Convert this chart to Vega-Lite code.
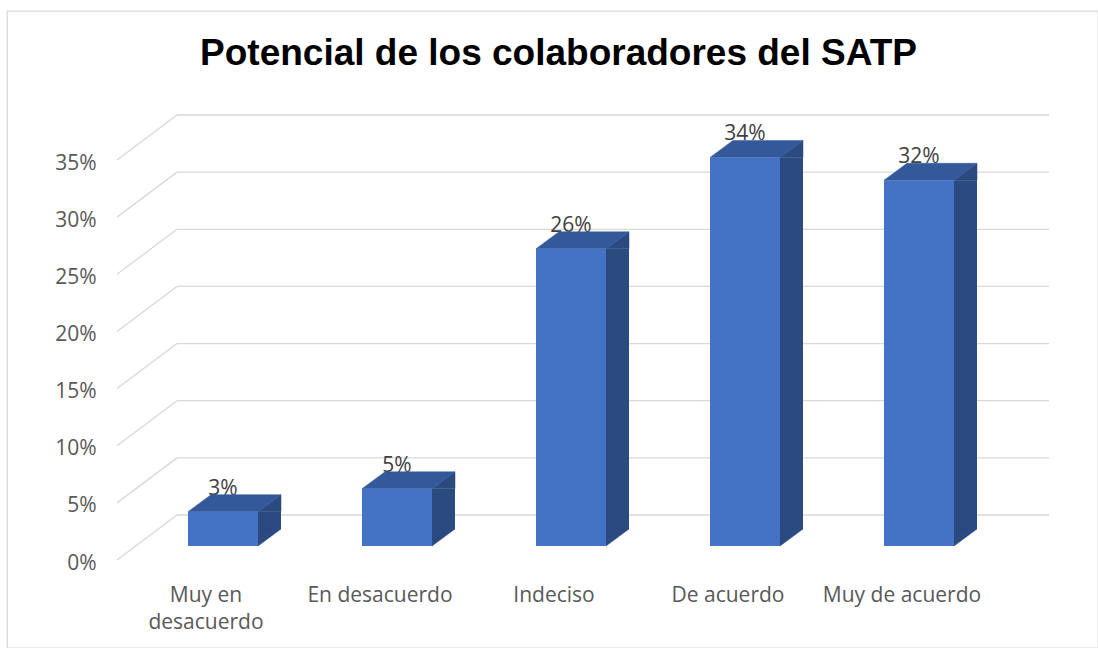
{
  "$schema": "https://vega.github.io/schema/vega-lite/v6.json",
  "width": 1091,
  "height": 637,
  "autosize": {"type": "none"},
  "padding": {"left": 7, "top": 11, "right": 0, "bottom": 0},
  "background": "white",
  "config": {
    "view": {"stroke": "#D9D9D9", "strokeWidth": 1.3},
    "font": "Open Sans",
    "axisY": {"orient": "left", "offset": -89, "labelPadding": 0, "ticks": false, "domain": false, "grid": false, "labelFont": "Open Sans", "labelFontSize": 21, "labelColor": "#595959"},
    "axisX": {"orient": "bottom", "offset": -64, "labelPadding": 0, "ticks": false, "domain": false, "grid": false, "labelAngle": 0, "labelBaseline": "top", "labelFont": "Open Sans", "labelFontSize": 21, "labelColor": "#595959", "labelLineHeight": 27}
  },
  "title": {
    "text": "Potencial de los colaboradores del SATP",
    "font": "Liberation Sans",
    "fontSize": 37,
    "fontWeight": "bold",
    "color": "#000000",
    "anchor": "middle",
    "frame": "group",
    "baseline": "alphabetic",
    "offset": -91,
    "dx": 6
  },
  "datasets": {
    "bars": [
      {"cat": "Muy en desacuerdo", "v": 0.03},
      {"cat": "En desacuerdo", "v": 0.05},
      {"cat": "Indeciso", "v": 0.26},
      {"cat": "De acuerdo", "v": 0.34},
      {"cat": "Muy de acuerdo", "v": 0.32}
    ],
    "ticks": [
      {"v": 0}, {"v": 0.05}, {"v": 0.1}, {"v": 0.15}, {"v": 0.2}, {"v": 0.25}, {"v": 0.3}, {"v": 0.35}
    ]
  },
  "layer": [
    {
      "data": {"name": "ticks"},
      "mark": {"type": "rule", "color": "#D9D9D9", "strokeWidth": 1.3, "xOffset": -2, "x2Offset": 58, "yOffset": -3, "y2Offset": -48},
      "encoding": {
        "x": {"datum": "Muy en desacuerdo", "bandPosition": 0, "type": "nominal", "scale": {"domain": ["Muy en desacuerdo", "En desacuerdo", "Indeciso", "De acuerdo", "Muy de acuerdo"], "range": [112, 982], "paddingInner": 0, "paddingOuter": 0}, "axis": {"title": null, "labelExpr": "datum.label == 'Muy en desacuerdo' ? ['Muy en', 'desacuerdo'] : datum.label"}},
        "x2": {"datum": "Muy en desacuerdo", "bandPosition": 0},
        "y": {"field": "v", "type": "quantitative", "scale": {"domain": [0, 0.35], "range": [552, 152], "nice": false, "zero": false}, "axis": {"title": null, "format": ".0%", "values": [0, 0.05, 0.1, 0.15, 0.2, 0.25, 0.3, 0.35]}},
        "y2": {"field": "v"}
      }
    },
    {
      "data": {"name": "ticks"},
      "mark": {"type": "rule", "color": "#D9D9D9", "strokeWidth": 1.3, "xOffset": 58, "x2Offset": 60, "yOffset": -48},
      "encoding": {
        "x": {"datum": "Muy en desacuerdo", "bandPosition": 0, "type": "nominal", "axis": {"title": null, "labelExpr": "datum.label == 'Muy en desacuerdo' ? ['Muy en', 'desacuerdo'] : datum.label"}},
        "x2": {"datum": "Muy de acuerdo", "bandPosition": 1},
        "y": {"field": "v", "type": "quantitative", "axis": {"title": null, "format": ".0%", "values": [0, 0.05, 0.1, 0.15, 0.2, 0.25, 0.3, 0.35]}}
      }
    },
    {
      "data": {"name": "bars"},
      "mark": {"type": "text", "fontSize": 21, "font": "Open Sans", "color": "#404040", "align": "center", "baseline": "alphabetic", "dx": 17, "dy": -34},
      "encoding": {
        "x": {"field": "cat", "type": "nominal", "sort": null, "axis": {"title": null, "labelExpr": "datum.label == 'Muy en desacuerdo' ? ['Muy en', 'desacuerdo'] : datum.label"}},
        "y": {"field": "v", "type": "quantitative", "axis": {"title": null, "format": ".0%", "values": [0, 0.05, 0.1, 0.15, 0.2, 0.25, 0.3, 0.35]}},
        "text": {"field": "v", "type": "quantitative", "format": ".0%"}
      }
    },
    {
      "data": {"name": "bars"},
      "mark": {"type": "bar", "color": "#2A4A80", "width": 23, "xOffset": 63.5, "yOffset": -17, "y2Offset": -34},
      "encoding": {
        "x": {"field": "cat", "type": "nominal", "sort": null, "axis": {"title": null, "labelExpr": "datum.label == 'Muy en desacuerdo' ? ['Muy en', 'desacuerdo'] : datum.label"}},
        "y": {"field": "v", "type": "quantitative", "axis": {"title": null, "format": ".0%", "values": [0, 0.05, 0.1, 0.15, 0.2, 0.25, 0.3, 0.35]}},
        "y2": {"datum": 0}
      }
    },
    {
      "data": {"name": "bars"},
      "mark": {"type": "point", "shape": "M52,-17L75,-34L75,-17Z", "size": 4, "fill": "#2A4A80", "stroke": "#2A4A80", "strokeWidth": 0.5, "opacity": 1, "filled": true},
      "encoding": {
        "x": {"field": "cat", "type": "nominal", "sort": null, "axis": {"title": null, "labelExpr": "datum.label == 'Muy en desacuerdo' ? ['Muy en', 'desacuerdo'] : datum.label"}},
        "y": {"field": "v", "type": "quantitative", "axis": {"title": null, "format": ".0%", "values": [0, 0.05, 0.1, 0.15, 0.2, 0.25, 0.3, 0.35]}}
      }
    },
    {
      "data": {"name": "bars"},
      "mark": {"type": "point", "shape": "M52,-34L75,-34L52,-17Z", "size": 4, "fill": "#2A4A80", "stroke": "#2A4A80", "strokeWidth": 0.5, "opacity": 1, "filled": true},
      "encoding": {
        "x": {"field": "cat", "type": "nominal", "sort": null, "axis": {"title": null, "labelExpr": "datum.label == 'Muy en desacuerdo' ? ['Muy en', 'desacuerdo'] : datum.label"}},
        "y": {"datum": 0, "type": "quantitative", "axis": {"title": null, "format": ".0%", "values": [0, 0.05, 0.1, 0.15, 0.2, 0.25, 0.3, 0.35]}}
      }
    },
    {
      "data": {"name": "bars"},
      "mark": {"type": "point", "shape": "M-18,-17L52,-17L75,-34L5,-34Z", "size": 4, "fill": "#33599B", "stroke": "#33599B", "strokeWidth": 0.5, "opacity": 1, "filled": true},
      "encoding": {
        "x": {"field": "cat", "type": "nominal", "sort": null, "axis": {"title": null, "labelExpr": "datum.label == 'Muy en desacuerdo' ? ['Muy en', 'desacuerdo'] : datum.label"}},
        "y": {"field": "v", "type": "quantitative", "axis": {"title": null, "format": ".0%", "values": [0, 0.05, 0.1, 0.15, 0.2, 0.25, 0.3, 0.35]}}
      }
    },
    {
      "data": {"name": "bars"},
      "mark": {"type": "bar", "color": "#4472C4", "width": 70, "xOffset": 17, "yOffset": -17, "y2Offset": -17},
      "encoding": {
        "x": {"field": "cat", "type": "nominal", "sort": null, "axis": {"title": null, "labelExpr": "datum.label == 'Muy en desacuerdo' ? ['Muy en', 'desacuerdo'] : datum.label"}},
        "y": {"field": "v", "type": "quantitative", "axis": {"title": null, "format": ".0%", "values": [0, 0.05, 0.1, 0.15, 0.2, 0.25, 0.3, 0.35]}},
        "y2": {"datum": 0}
      }
    }
  ]
}
